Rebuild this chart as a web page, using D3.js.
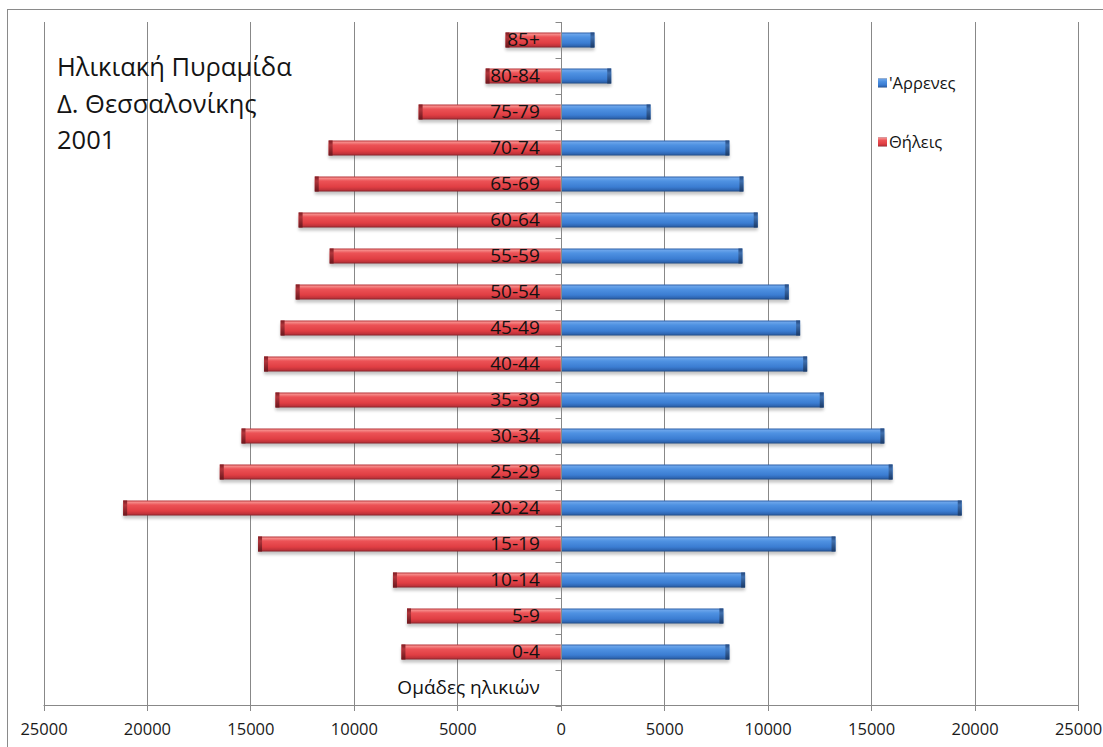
<!DOCTYPE html>
<html>
<head>
<meta charset="utf-8">
<script src="https://cdn.jsdelivr.net/npm/d3@7"></script>
<style>
  html, body { margin: 0; padding: 0; background: #ffffff; }
  svg { display: block; }
  text { font-family: "Open Sans", "Noto Sans", "DejaVu Sans", sans-serif; }
</style>
</head>
<body>
<svg id="chart" width="1103" height="747"></svg>
<script>
// Age groups, youngest first
const ageGroups = ["0-4", "5-9", "10-14", "15-19", "20-24", "25-29", "30-34", "35-39", "40-44",
                   "45-49", "50-54", "55-59", "60-64", "65-69", "70-74", "75-79", "80-84", "85+"];
// Population by age group, Δ. Θεσσαλονίκης 2001
const males   = [8150, 7860, 8910, 13280, 19380, 16040, 15640, 12710, 11910,
                 11570, 11020, 8780, 9520, 8830, 8150, 4340, 2440, 1630];
const females = [7700, 7430, 8110, 14630, 21150, 16480, 15430, 13790, 14340,
                 13540, 12810, 11170, 12670, 11890, 11220, 6870, 3630, 2670];
const axisTitle = "Ομάδες ηλικιών";
const titleLines = ["Ηλικιακή Πυραμίδα", "Δ. Θεσσαλονίκης", "2001"];
const seriesNames = ["'Αρρενες", "Θήλεις"];
const xTicks = [-25000, -20000, -15000, -10000, -5000, 0, 5000, 10000, 15000, 20000, 25000];

const svg = d3.select("#chart");

// outer chart frame
svg.append("rect").attr("x", 7.5).attr("y", 9.5).attr("width", 1120).attr("height", 760)
  .attr("fill", "#ffffff").attr("stroke", "#8a8a8a").attr("stroke-width", 1);

const x = d3.scaleLinear().domain([-25000, 25000]).range([43.5, 1078]);
const cats = ageGroups.slice().reverse().concat([axisTitle]);
const y = d3.scaleBand().domain(cats).range([22, 706]);

const defs = svg.append("defs");
function cylGrad(id, stops) {
  const g = defs.append("linearGradient").attr("id", id)
    .attr("x1", 0).attr("y1", 0).attr("x2", 0).attr("y2", 1);
  stops.forEach(s => g.append("stop").attr("offset", s[0]).attr("stop-color", s[1]));
}
cylGrad("gBlue", [[0, "#2d5fa6"], [0.12, "#6aa4ea"], [0.3, "#4f92e2"], [0.7, "#3b7dd2"], [0.88, "#2f67b4"], [1, "#1f4a86"]]);
cylGrad("gRed", [[0, "#b53238"], [0.12, "#f58a88"], [0.3, "#ec5256"], [0.7, "#e03e43"], [0.88, "#c1333a"], [1, "#86222a"]]);
cylGrad("gBlueCap", [[0, "#24497f"], [0.3, "#3f6fae"], [1, "#1a3a68"]]);
cylGrad("gRedCap", [[0, "#7e1e24"], [0.3, "#b0353b"], [1, "#6c171d"]]);
const blur = defs.append("filter").attr("id", "shadow").attr("x", "-5%").attr("y", "-50%")
  .attr("width", "110%").attr("height", "200%");
blur.append("feGaussianBlur").attr("stdDeviation", 1.6);

// vertical gridlines with tick marks below the value axis
const grid = svg.append("g");
grid.selectAll("line").data(xTicks).join("line")
  .attr("x1", d => Math.round(x(d)) + 0.5).attr("x2", d => Math.round(x(d)) + 0.5)
  .attr("y1", 22).attr("y2", 711)
  .attr("stroke", "#888888").attr("stroke-width", 1);

// value axis
const xAxis = d3.axisBottom(x).tickValues(xTicks).tickSize(0).tickPadding(18)
  .tickFormat(d => String(Math.abs(d)));
const gx = svg.append("g").attr("transform", "translate(0,705.5)").call(xAxis);
gx.select(".domain").attr("stroke", "#888888").attr("d", `M${x(-25000)},0H${x(25000)}`);
gx.selectAll("text").attr("font-size", 16.5).attr("fill", "#1a1a1a")
  .attr("font-family", "'Open Sans', sans-serif");

const barH = 15;
const rows = ageGroups.map((g, i) => ({ g, m: males[i], f: females[i] }));

// soft shadows below the bars
const shadows = svg.append("g").attr("filter", "url(#shadow)").attr("opacity", 0.35);
shadows.selectAll("rect.sm").data(rows).join("rect")
  .attr("x", x(0)).attr("width", d => x(d.m) - x(0))
  .attr("y", d => y(d.g) + y.bandwidth() / 2 - barH / 2 + 3).attr("height", barH)
  .attr("fill", "#555");
shadows.selectAll("rect.sf").data(rows).join("rect")
  .attr("x", d => x(-d.f)).attr("width", d => x(0) - x(-d.f))
  .attr("y", d => y(d.g) + y.bandwidth() / 2 - barH / 2 + 3).attr("height", barH)
  .attr("fill", "#555");

const bars = svg.append("g");
const by = d => y(d.g) + y.bandwidth() / 2 - barH / 2;
// male bars to the right
bars.selectAll("rect.m").data(rows).join("rect").attr("class", "m")
  .attr("x", x(0)).attr("y", by).attr("width", d => x(d.m) - x(0)).attr("height", barH)
  .attr("fill", "url(#gBlue)");
bars.selectAll("rect.mc").data(rows).join("rect").attr("class", "mc")
  .attr("x", d => x(d.m) - 4).attr("y", by).attr("width", 4).attr("height", barH)
  .attr("fill", "url(#gBlueCap)");
// female bars to the left
bars.selectAll("rect.f").data(rows).join("rect").attr("class", "f")
  .attr("x", d => x(-d.f)).attr("y", by).attr("width", d => x(0) - x(-d.f)).attr("height", barH)
  .attr("fill", "url(#gRed)");
bars.selectAll("rect.fc").data(rows).join("rect").attr("class", "fc")
  .attr("x", d => x(-d.f)).attr("y", by).attr("width", 4).attr("height", barH)
  .attr("fill", "url(#gRedCap)");

// category axis at zero, ticks on band boundaries
const x0 = Math.round(x(0)) + 0.5;
svg.append("line").attr("x1", x0).attr("x2", x0).attr("y1", 22).attr("y2", 706)
  .attr("stroke", "#888888");
const bounds = cats.map(c => y(c)).concat([706]);
svg.append("g").selectAll("line").data(bounds).join("line")
  .attr("x1", x0 - 6).attr("x2", x0).attr("y1", d => Math.round(d) + 0.5).attr("y2", d => Math.round(d) + 0.5)
  .attr("stroke", "#888888");

const yAxis = d3.axisLeft(y).tickSize(0).tickPadding(0);
const gy = svg.append("g").attr("transform", `translate(${x(0) - 21},0)`).call(yAxis);
gy.select(".domain").remove();
gy.selectAll("text").attr("font-size", 19).attr("fill", "#111111")
  .attr("font-family", "'Open Sans', sans-serif");

// title
svg.append("g").selectAll("text").data(titleLines).join("text")
  .attr("x", 57).attr("y", (d, i) => 76 + i * 36.5)
  .attr("font-size", 25.5).attr("fill", "#141414").text(d => d);

// legend
const legend = svg.append("g");
const legItems = [{ n: seriesNames[0], f: "url(#gBlue)", y: 83 }, { n: seriesNames[1], f: "url(#gRed)", y: 142 }];
legend.selectAll("rect").data(legItems).join("rect")
  .attr("x", 878).attr("y", d => d.y - 4.5).attr("width", 9).attr("height", 9).attr("fill", d => d.f);
legend.selectAll("text").data(legItems).join("text")
  .attr("x", 889).attr("y", d => d.y).attr("dy", "0.35em")
  .attr("font-size", 16.5).attr("fill", "#141414").text(d => d.n);
</script>
</body>
</html>
